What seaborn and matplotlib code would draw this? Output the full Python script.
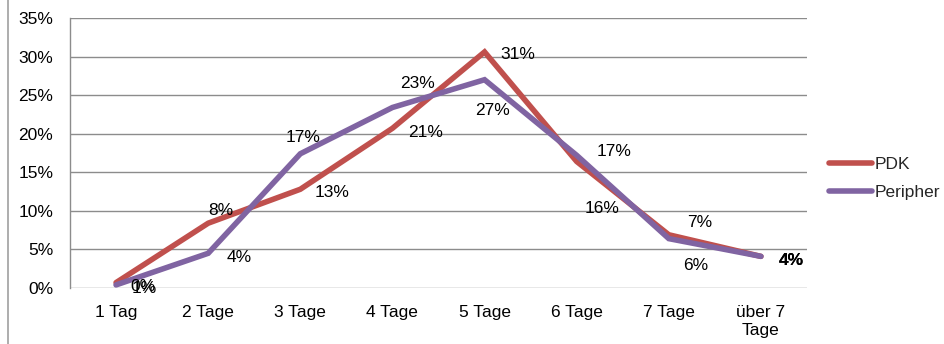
import matplotlib
matplotlib.use("Agg")
import matplotlib.pyplot as plt
from matplotlib.lines import Line2D
import seaborn as sns
import pandas as pd

# Verweildauer nach Gruppe (Anteile in %)
categories = ["1 Tag", "2 Tage", "3 Tage", "4 Tage", "5 Tage", "6 Tage", "7 Tage", "über 7\nTage"]
pdk = [0.7, 8.4, 12.8, 20.7, 30.6, 16.4, 6.9, 4.1]
peripher = [0.4, 4.5, 17.4, 23.4, 27.0, 17.2, 6.4, 4.1]
series_names = ["PDK", "Peripher"]
colors = ["#C0504D", "#8064A2"]

# label offsets (points) for each data label
pdk_offsets = [(20, -4), (9, 9), (23, -2), (24, -3), (24, -2), (18, -34), (22, 9), (22, -3)]
per_offsets = [(19, -1), (22, -3), (2, 12), (18, 17), (6, -22), (27, 3), (19, -19), (22, -3)]

FS = 12.5

sns.set_theme(style="white")
plt.rcParams["font.family"] = ["Liberation Sans", "DejaVu Sans"]

df = pd.DataFrame({
    "Dauer": categories * 2,
    "Anteil": pdk + peripher,
    "Gruppe": [series_names[0]] * len(pdk) + [series_names[1]] * len(peripher),
})

fig = plt.figure(figsize=(9.44, 3.44), dpi=100)
ax = fig.add_axes([70 / 944, 1 - 288 / 344, (807 - 70) / 944, (288 - 18) / 344])

sns.lineplot(data=df, x="Dauer", y="Anteil", hue="Gruppe", palette=colors,
             hue_order=series_names, sort=False, linewidth=4, ax=ax,
             solid_capstyle="round", solid_joinstyle="miter", legend=False)

ax.set_xlim(-0.5, len(categories) - 0.5)
ax.set_ylim(0, 35)
ax.set_yticks(range(0, 36, 5))
ax.set_yticklabels([f"{v}%" for v in range(0, 36, 5)])
ax.set_xticks(range(len(categories)))
ax.set_xticklabels(categories, linespacing=1.3)
ax.tick_params(axis="y", length=0, pad=12, labelsize=FS, colors="black")
ax.tick_params(axis="x", length=0, pad=12, labelsize=FS, colors="black")
ax.set_xlabel("")
ax.set_ylabel("")

ax.grid(axis="y", color="#8c8c8c", linewidth=1)
ax.set_axisbelow(True)
for side in ["top", "right", "bottom"]:
    ax.spines[side].set_visible(False)
ax.spines["left"].set_color("#8c8c8c")
ax.spines["left"].set_linewidth(1)

# data labels
for values, offsets in [(pdk, pdk_offsets), (peripher, per_offsets)]:
    n = len(values)
    for i, (v, off) in enumerate(zip(values, offsets)):
        ax.annotate(f"{v:.0f}%", (i, v), xytext=off, textcoords="offset points",
                    ha="center", va="center", fontsize=FS, color="black",
                    fontweight="bold" if i == n - 1 else "normal")

handles = [Line2D([0], [0], color=c, linewidth=4, solid_capstyle="round") for c in colors]
fig.legend(handles, series_names, loc="upper left", bbox_to_anchor=(822 / 944, 1 - 150 / 344),
           frameon=False, fontsize=FS, handlelength=2.5, handletextpad=0.15,
           labelspacing=0.75, borderaxespad=0)

fig.add_artist(Line2D([7.5 / 944, 7.5 / 944], [0, 1], transform=fig.transFigure,
                      color="#a0a0a0", linewidth=1.2))

fig.savefig("out.png", dpi=100)
